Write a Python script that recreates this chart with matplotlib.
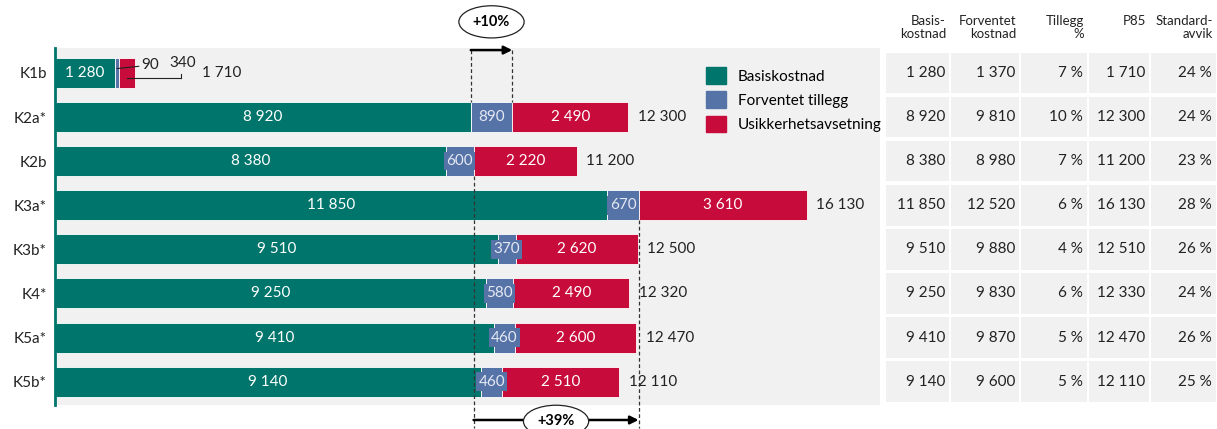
import matplotlib
matplotlib.use('Agg')
import numpy as np
from matplotlib import pyplot as plt
from matplotlib.patches import Rectangle, Patch

plt.rcParams['font.family'] = ['Lato', 'DejaVu Sans']

# data
kategorier = ['K1b', 'K2a*', 'K2b', 'K3a*', 'K3b*', 'K4*', 'K5a*', 'K5b*']
basis = [1280, 8920, 8380, 11850, 9510, 9250, 9410, 9140]
tillegg = [90, 890, 600, 670, 370, 580, 460, 460]
usikkerhet = [340, 2490, 2220, 3610, 2620, 2490, 2600, 2510]
total = [1710, 12300, 11200, 16130, 12500, 12320, 12470, 12110]

tab_header = ['Basis-\nkostnad', 'Forventet\nkostnad', 'Tillegg\n%', 'P85\n', 'Standard-\navvik']
tab_basis = ['1 280', '8 920', '8 380', '11 850', '9 510', '9 250', '9 410', '9 140']
tab_forventet = ['1 370', '9 810', '8 980', '12 520', '9 880', '9 830', '9 870', '9 600']
tab_tillegg = ['7 %', '10 %', '7 %', '6 %', '4 %', '6 %', '5 %', '5 %']
tab_p85 = ['1 710', '12 300', '11 200', '16 130', '12 510', '12 330', '12 470', '12 110']
tab_std = ['24 %', '24 %', '23 %', '28 %', '26 %', '24 %', '26 %', '25 %']

forventet = [9810, 8980, 12520]  # K2a, K2b (min), K3a (max)

c_teal = '#00756b'
c_blue = '#5673a8'
c_red = '#c70b3a'
c_bg = '#f1f1f1'
fs = 11

def fmt(v):
    return f'{v:,}'.replace(',', ' ')

fig = plt.figure(figsize=(12.17, 4.29), dpi=100)
ax = fig.add_axes([55/1217, 1-405/429, 825/1217, 357/429])
ax.set_facecolor(c_bg)

y = np.arange(len(kategorier))
h = 0.68
b = np.array(basis)
t = np.array(tillegg)
u = np.array(usikkerhet)
ax.barh(y, b, height=h, color=c_teal, edgecolor='white', linewidth=0.6)
ax.barh(y, t, left=b, height=h, color=c_blue, edgecolor='white', linewidth=0.6)
ax.barh(y, u, left=b+t, height=h, color=c_red, edgecolor='white', linewidth=0.6)

ax.set_xlim(0, 17700)
ax.set_ylim(7.53, -0.567)
ax.set_yticks(y)
ax.set_yticklabels(kategorier, fontsize=fs, color='#222')
ax.tick_params(axis='y', length=0, pad=6)
ax.set_xticks([])
for s in ['top', 'right', 'bottom']:
    ax.spines[s].set_visible(False)
ax.spines['left'].set_color(c_teal)
ax.spines['left'].set_linewidth(2)

for i in range(len(kategorier)):
    ax.text(b[i]/2, i, fmt(basis[i]), color='white', ha='center', va='center', fontsize=fs)
    if i == 0:
        # small segments labelled outside with leader lines
        ax.annotate(fmt(tillegg[i]), xy=(b[i]+t[i]/2, i-0.1), xytext=(1860, i-0.18),
                    fontsize=fs, va='center', color='#222',
                    arrowprops=dict(arrowstyle='-', color='#222', lw=0.8, shrinkA=0, shrinkB=0))
        ax.annotate(fmt(usikkerhet[i]), xy=(b[i]+t[i]+u[i]/2, i+0.12), xytext=(2450, i-0.22),
                    fontsize=fs, va='center', color='#222')
        ax.plot([b[i]+t[i]+u[i]/2, 2700], [i+0.12, i+0.12], color='#222', lw=0.8)
        ax.plot([2700, 2700], [i+0.12, i+0.02], color='#222', lw=0.8)
        ax.text(3150, i, fmt(total[i]), ha='left', va='center', fontsize=fs, color='#222')
        continue
    if t[i] >= 800:
        ax.text(b[i]+t[i]/2, i, fmt(tillegg[i]), color='#e4e8f2', ha='center', va='center', fontsize=fs)
    else:
        ax.text(b[i]+t[i]/2, i, fmt(tillegg[i]), color='#e4e8f2', ha='center', va='center', fontsize=fs,
                bbox=dict(boxstyle='square,pad=0.15', fc=c_blue, ec='none'))
    ax.text(b[i]+t[i]+u[i]/2, i, fmt(usikkerhet[i]), color='white', ha='center', va='center', fontsize=fs)
    ax.text(b[i]+t[i]+u[i]+200, i, fmt(total[i]), ha='left', va='center', fontsize=fs, color='#222')

# +10 % annotation (K2a)
for xv in [basis[1], forventet[0]]:
    ax.plot([xv, xv], [-0.52, 1-h/2], ls=(0, (3, 2)), color='#333', lw=0.9, clip_on=False)
ax.annotate('', xy=(forventet[0], -0.52), xytext=(basis[1], -0.52),
            arrowprops=dict(arrowstyle='-|>', color='black', lw=1.8, shrinkA=0, shrinkB=0,
                            mutation_scale=12), annotation_clip=False)
ax.text((basis[1]+forventet[0])/2, -1.16, '+10%', ha='center', va='center', fontsize=10.5,
        fontweight='bold', clip_on=False,
        bbox=dict(boxstyle='ellipse,pad=0.3', fc='white', ec='#222', lw=0.9))

# +39 % annotation (min to max forventet kostnad)
ax.plot([forventet[1]]*2, [2+h/2, 8.05], ls=(0, (3, 2)), color='#333', lw=0.9, clip_on=False)
ax.plot([forventet[2]]*2, [3+h/2, 8.05], ls=(0, (3, 2)), color='#333', lw=0.9, clip_on=False)
ax.annotate('', xy=(forventet[2], 7.87), xytext=(forventet[1], 7.87),
            arrowprops=dict(arrowstyle='-|>', color='black', lw=1.8, shrinkA=0, shrinkB=0,
                            mutation_scale=12), annotation_clip=False)
ax.text((forventet[1]+forventet[2])/2, 7.9, '+39%', ha='center', va='center', fontsize=10.5,
        fontweight='bold', clip_on=False,
        bbox=dict(boxstyle='ellipse,pad=0.3', fc='white', ec='#222', lw=0.9))

handles = [Patch(color=c_teal, label='Basiskostnad'),
           Patch(color=c_blue, label='Forventet tillegg'),
           Patch(color=c_red, label='Usikkerhetsavsetning')]
ax.legend(handles=handles, loc='upper left', bbox_to_anchor=(0.772, 0.985), frameon=False,
          fontsize=11, handlelength=1.3, handleheight=1.3, handletextpad=0.8, labelspacing=0.5)

# table
tx = fig.add_axes([885/1217, 1-405/429, 332/1217, 357/429])
tx.set_xlim(0, 332)
tx.set_ylim(7.53, -0.567)
tx.axis('off')
kol = [0, 65, 135, 203, 265, 332]
kolonner = [tab_basis, tab_forventet, tab_tillegg, tab_p85, tab_std]
for j, col in enumerate(kolonner):
    for i, v in enumerate(col):
        tx.add_patch(Rectangle((kol[j]+1, i-0.5+0.04), kol[j+1]-kol[j]-2, 0.92,
                               fc=c_bg, ec='none'))
        tx.text(kol[j+1]-5, i, v, ha='right', va='center', fontsize=fs, color='#222')
    tx.text(kol[j+1]-4, -1.03, tab_header[j], ha='right', va='center', fontsize=9.5,
            color='#222', linespacing=1.05, clip_on=False)

fig.savefig('out.png', dpi=100)
